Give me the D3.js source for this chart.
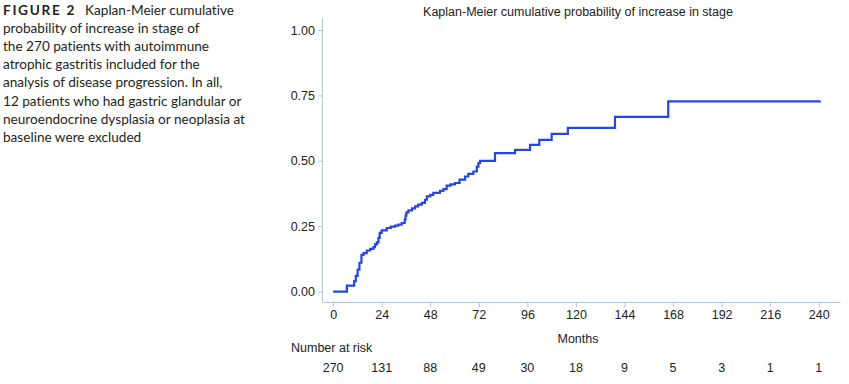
<!DOCTYPE html>
<html>
<head>
<meta charset="utf-8">
<script src="https://cdn.jsdelivr.net/npm/d3@7"></script>
<style>
  body { margin: 0; background: #fff; }
  svg { display: block; }
</style>
</head>
<body>
<div id="chart"></div>
<script>
// months at which the cumulative probability steps up, and the value after each step
const months = [0, 6.8, 10.4, 11.2, 12.1, 13.0, 14.0, 15.0, 16.6, 18.3, 19.9, 20.7, 21.6, 22.4, 23.0,
  24.0, 26.5, 28.5, 30.6, 32.2, 33.9, 35.4, 35.8, 36.2, 37.2, 39.0, 40.5, 42.0, 43.8, 45.4, 46.3,
  48.0, 49.5, 52.8, 54.5, 56.1, 58.0, 60.2, 62.5, 65.2, 66.8, 69.3, 71.0, 71.8, 72.6, 80.0, 89.9,
  97.3, 101.9, 108.0, 116.0, 139.3, 165.6, 241];
const cumProb = [0, 0.023, 0.04, 0.06, 0.084, 0.11, 0.14, 0.147, 0.157, 0.163, 0.17, 0.18, 0.188, 0.205, 0.224,
  0.234, 0.243, 0.248, 0.252, 0.256, 0.262, 0.275, 0.29, 0.303, 0.31, 0.318, 0.326, 0.332, 0.339, 0.351, 0.364,
  0.37, 0.377, 0.385, 0.392, 0.405, 0.41, 0.415, 0.428, 0.44, 0.45, 0.459, 0.478, 0.491, 0.5, 0.529, 0.542,
  0.561, 0.58, 0.603, 0.626, 0.668, 0.727, 0.727];

const xTicks = [0, 24, 48, 72, 96, 120, 144, 168, 192, 216, 240];
const yTicks = [0, 0.25, 0.5, 0.75, 1];
const atRisk = [270, 131, 88, 49, 30, 18, 9, 5, 3, 1, 1];

const captionLines = [
  "Kaplan-Meier cumulative",
  "probability of increase in stage of",
  "the 270 patients with autoimmune",
  "atrophic gastritis included for the",
  "analysis of disease progression. In all,",
  "12 patients who had gastric glandular or",
  "neuroendocrine dysplasia or neoplasia at",
  "baseline were excluded"
];

const width = 849, height = 384;
const axisColor = "#b4c6da";
const lineColor = "#2447e3";
const font = "'Liberation Sans', Arial, sans-serif";

const svg = d3.select('#chart')
  .append('svg')
  .attr('width', width)
  .attr('height', height);

// caption on the left
const cap = svg.append('text')
  .attr('font-family', "Lato, 'Open Sans', sans-serif")
  .attr('font-size', 13.6)
  .attr('fill', '#231f20')
  .style('font-variant-ligatures', 'none');

captionLines.forEach((line, i) => {
  if (i === 0) {
    cap.append('tspan')
      .attr('x', 3).attr('y', 15)
      .attr('font-weight', 'bold')
      .attr('letter-spacing', 1.7)
      .text('FIGURE 2');
    cap.append('tspan')
      .attr('dx', 9)
      .text(line);
  } else {
    cap.append('tspan')
      .attr('x', 3)
      .attr('y', 15 + i * 18.1)
      .text(line);
  }
});

const x = d3.scaleLinear().domain([-5.5, 250.5]).range([322, 840]);
const y = d3.scaleLinear().domain([-0.04, 1.046]).range([302, 18]);

// title
svg.append('text')
  .attr('x', 578).attr('y', 16)
  .attr('text-anchor', 'middle')
  .attr('font-family', font)
  .attr('font-size', 12.5)
  .attr('fill', '#222')
  .text('Kaplan-Meier cumulative probability of increase in stage');

// axes
const yAxis = svg.append('g')
  .attr('transform', `translate(${x.range()[0]},0)`)
  .call(d3.axisLeft(y).tickValues(yTicks).tickFormat(d3.format('.2f')).tickSize(4).tickSizeOuter(0).tickPadding(3));

const xAxis = svg.append('g')
  .attr('transform', `translate(0,${y.range()[0]})`)
  .call(d3.axisBottom(x).tickValues(xTicks).tickSize(5).tickSizeOuter(0).tickPadding(3));

[xAxis, yAxis].forEach(g => {
  g.selectAll('path, line').attr('stroke', axisColor);
  g.selectAll('text')
    .attr('font-family', font)
    .attr('font-size', 12.5)
    .attr('fill', '#222');
});

// KM curve
const pts = months.map((m, i) => [m, cumProb[i]]);
const line = d3.line()
  .x(d => x(d[0]))
  .y(d => y(d[1]))
  .curve(d3.curveStepAfter);

svg.append('path')
  .datum(pts)
  .attr('d', line)
  .attr('fill', 'none')
  .attr('stroke', lineColor)
  .attr('stroke-width', 2.2);

// x axis title
svg.append('text')
  .attr('x', 578).attr('y', 343)
  .attr('text-anchor', 'middle')
  .attr('font-family', font)
  .attr('font-size', 12.5)
  .attr('fill', '#222')
  .text('Months');

// number at risk table
svg.append('text')
  .attr('x', 291).attr('y', 352)
  .attr('font-family', font)
  .attr('font-size', 12.5)
  .attr('fill', '#222')
  .text('Number at risk');

svg.append('g')
  .selectAll('text')
  .data(atRisk)
  .join('text')
  .attr('x', (d, i) => x(xTicks[i]))
  .attr('y', 372)
  .attr('text-anchor', 'middle')
  .attr('font-family', font)
  .attr('font-size', 12.5)
  .attr('fill', '#222')
  .text(d => d);
</script>
</body>
</html>
